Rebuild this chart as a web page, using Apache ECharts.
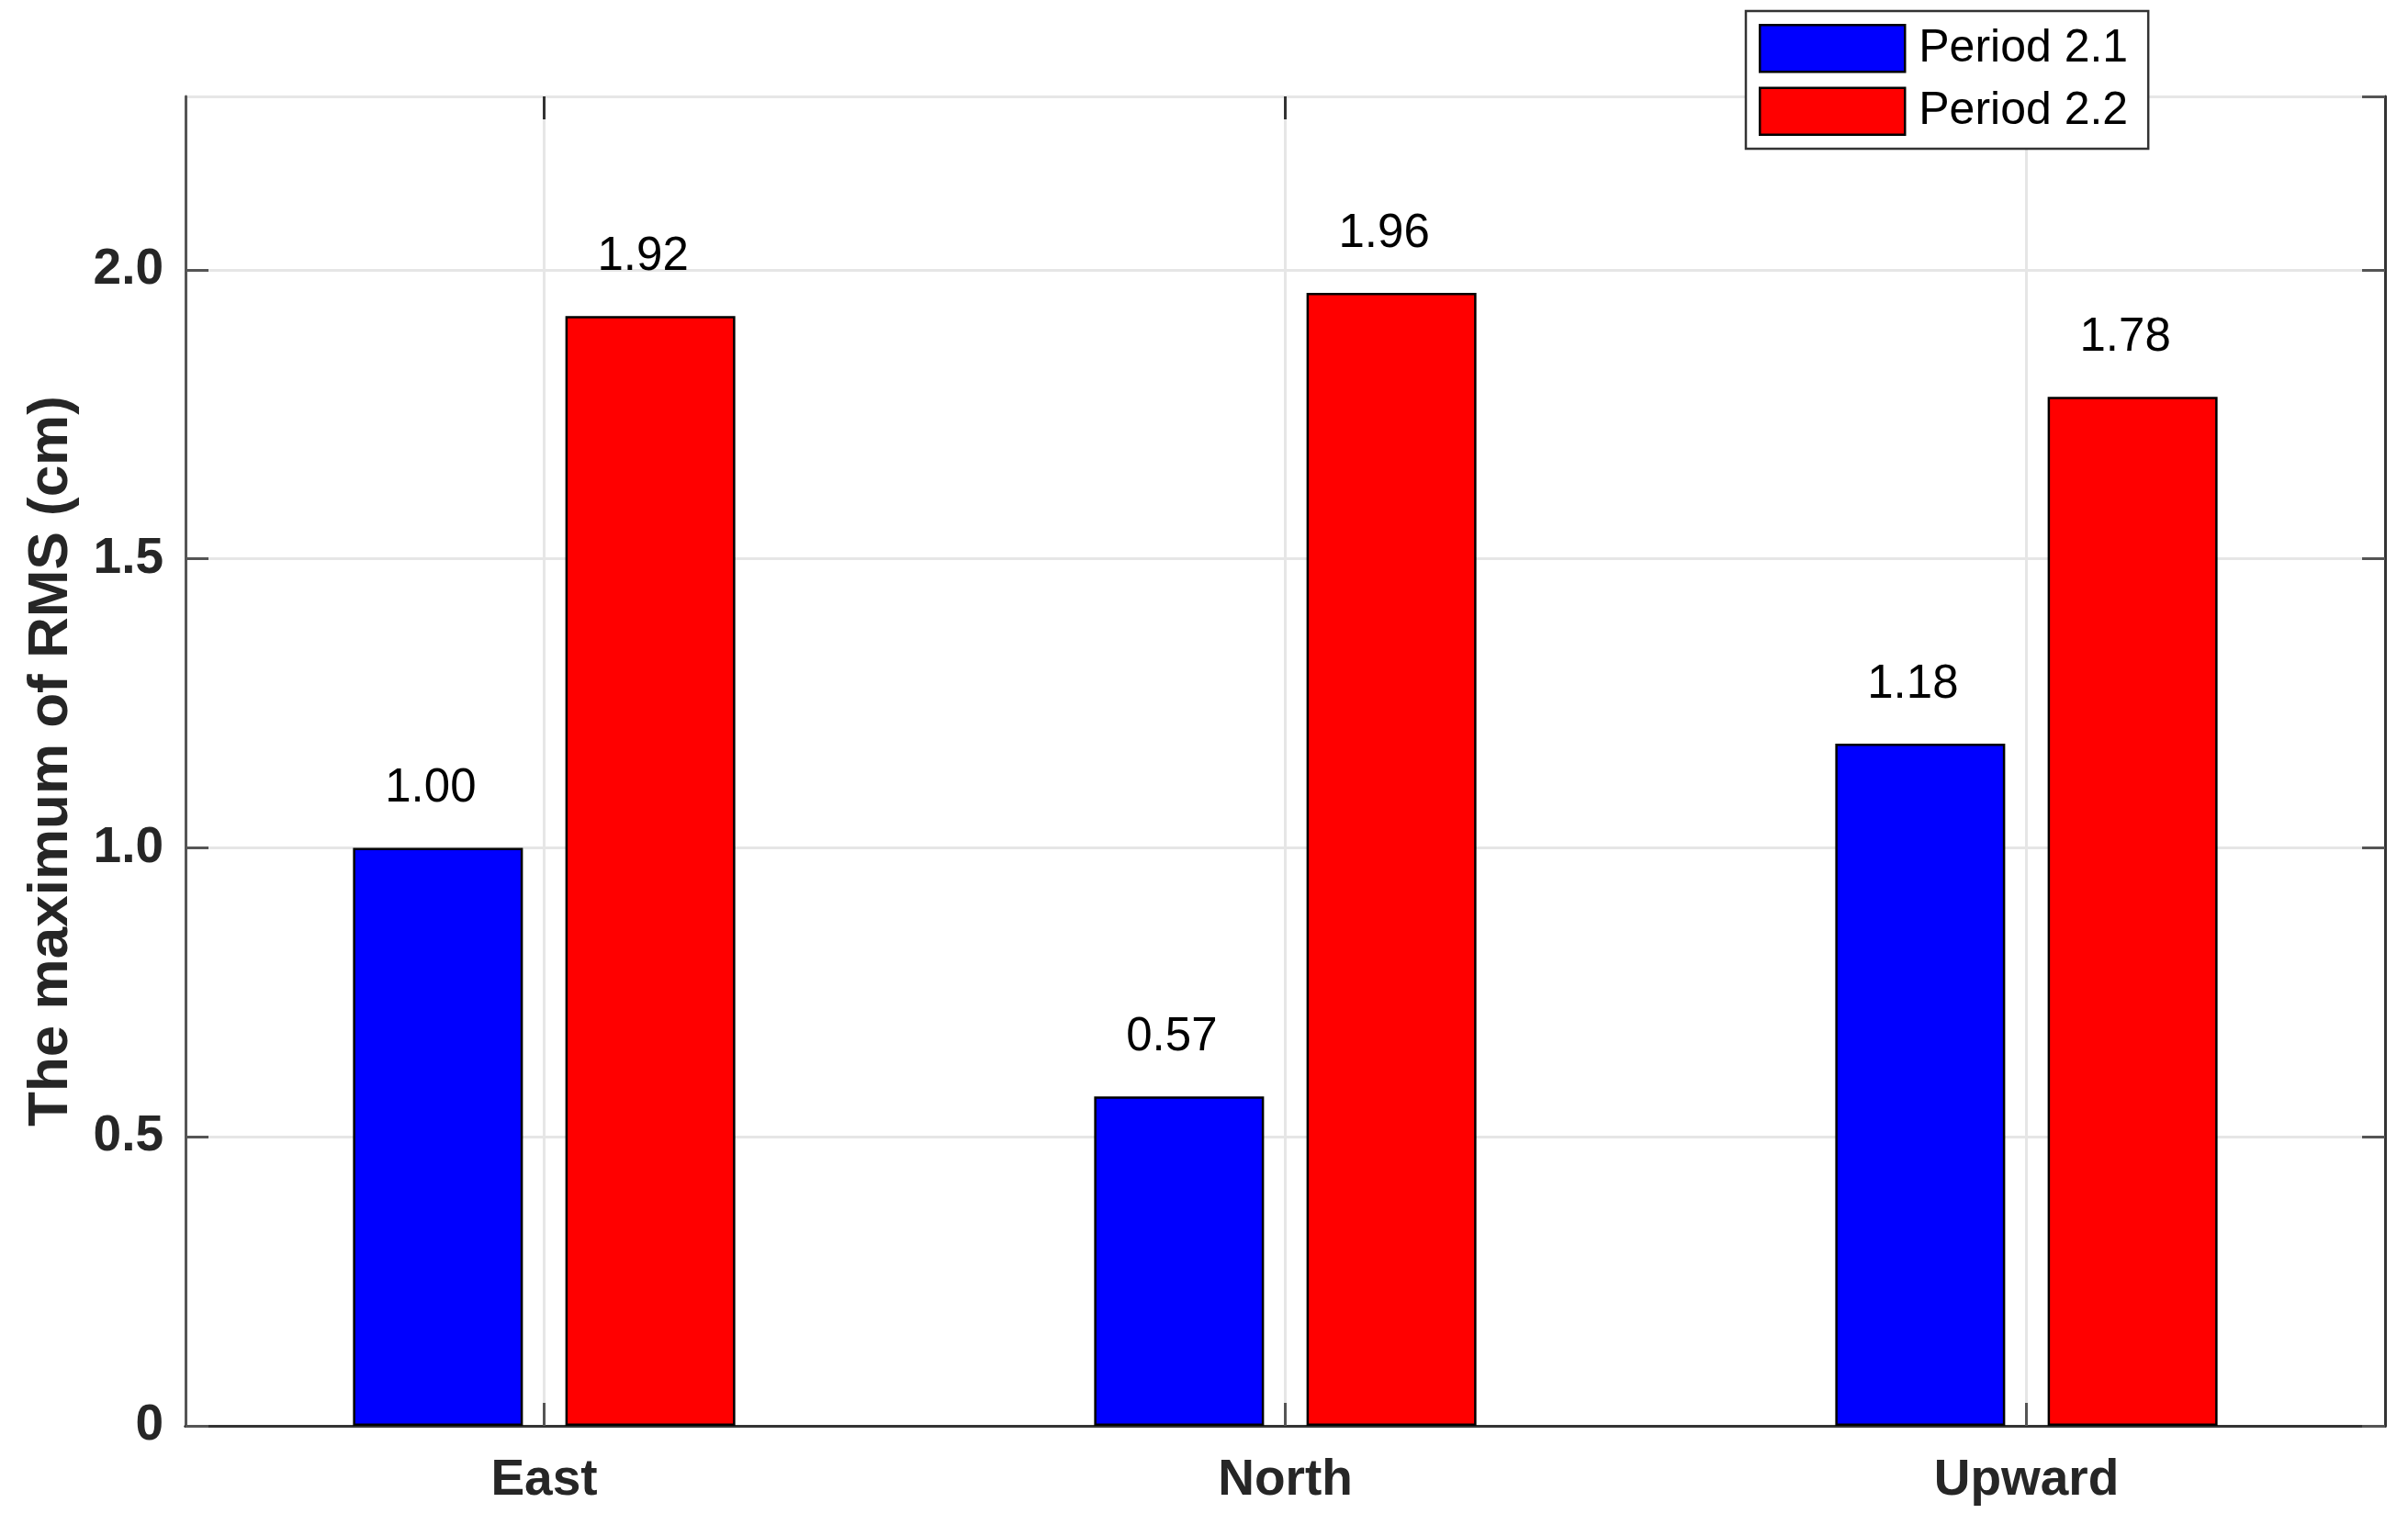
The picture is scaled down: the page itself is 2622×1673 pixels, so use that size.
<!DOCTYPE html>
<html>
<head>
<meta charset="utf-8">
<script src="https://cdn.jsdelivr.net/npm/echarts@6/dist/echarts.min.js"></script>
<style>
html,body{margin:0;padding:0;background:#fff;}
#chart{width:2622px;height:1673px;}
</style>
</head>
<body>
<div id="chart"></div>
<script>
const categories = ['East', 'North', 'Upward'];
const seriesNames = ['Period 2.1', 'Period 2.2'];
const period21 = [1.00, 0.57, 1.18];
const period22 = [1.92, 1.96, 1.78];
const yTicks = [0, 0.5, 1.0, 1.5, 2.0];
const yMin = 0, yMax = 2.3, yInterval = 0.5;

const FONT = "'Liberation Sans', Arial, Helvetica, sans-serif";
const AX = '#333333';
const GRID = '#e6e6e6';

const chart = echarts.init(document.getElementById('chart'), null, {renderer: 'canvas'});

const labelCfg = {
  show: true,
  position: 'top',
  distance: 39,
  offset: [-8, 0],
  fontFamily: FONT,
  fontSize: 51,
  lineHeight: 51,
  color: '#000',
  formatter: p => p.value.toFixed(2)
};

chart.setOption({
  animation: false,
  backgroundColor: '#fff',
  grid: [
    {left: 202, top: 105, width: 2395, height: 1448, containLabel: false},
    {left: 189, top: 105, width: 2421, height: 1448, containLabel: false}
  ],
  legend: {
    data: seriesNames,
    orient: 'vertical',
    left: 1901,
    top: 12,
    padding: [14, 22, 14, 14],
    itemWidth: 158,
    itemHeight: 51,
    itemGap: 15,
    icon: 'rect',
    backgroundColor: '#fff',
    borderColor: AX,
    borderWidth: 2.5,
    borderRadius: 0,
    z: 10,
    itemStyle: {borderColor: '#000', borderWidth: 2.5},
    textStyle: {fontFamily: FONT, fontSize: 50, color: '#000', padding: [0, 0, 0, 10]}
  },
  xAxis: [
    {
      gridIndex: 0, type: 'category', data: categories, position: 'bottom',
      axisLine: {show: true, lineStyle: {color: AX, width: 3}},
      axisTick: {show: false}, axisLabel: {show: false}, splitLine: {show: false}
    },
    {
      gridIndex: 0, type: 'category', data: categories, position: 'top',
      axisLine: {show: true, lineStyle: {color: AX, width: 3}},
      axisTick: {show: false}, axisLabel: {show: false}, splitLine: {show: false}
    },
    {
      gridIndex: 1, type: 'category', data: categories, position: 'bottom',
      axisLine: {show: false},
      axisTick: {show: true, inside: true, alignWithLabel: true, length: 25, lineStyle: {color: '#555', width: 3}},
      axisLabel: {show: true, margin: 32, fontFamily: FONT, fontSize: 55, fontWeight: 'bold', color: '#262626'},
      splitLine: {show: true, alignWithLabel: true, lineStyle: {color: GRID, width: 3}}
    },
    {
      gridIndex: 1, type: 'category', data: categories, position: 'top',
      axisLine: {show: false},
      axisTick: {show: true, inside: true, alignWithLabel: true, length: 25, lineStyle: {color: '#333', width: 3}},
      axisLabel: {show: false}, splitLine: {show: false}
    }
  ],
  yAxis: [
    {
      gridIndex: 0, type: 'value', position: 'left', min: yMin, max: yMax, interval: yInterval,
      name: 'The maximum of RMS (cm)', nameLocation: 'middle', nameGap: 115, nameRotate: 90,
      nameTextStyle: {fontFamily: FONT, fontSize: 62, fontWeight: 'bold', color: '#262626'},
      axisLine: {show: true, lineStyle: {color: '#555', width: 3}},
      axisTick: {show: true, inside: true, length: 25, lineStyle: {color: '#555', width: 3}},
      axisLabel: {
        show: true, margin: 24, fontFamily: FONT, fontSize: 55, fontWeight: 'bold', color: '#262626',
        showMaxLabel: false,
        formatter: v => {
          const t = yTicks.find(x => Math.abs(x - v) < 1e-6);
          if (t === undefined) return '';
          return t === 0 ? '0' : t.toFixed(1);
        }
      },
      splitLine: {show: true, lineStyle: {color: GRID, width: 3}}
    },
    {
      gridIndex: 0, type: 'value', position: 'right', min: yMin, max: yMax, interval: yInterval,
      axisLine: {show: true, lineStyle: {color: AX, width: 3}},
      axisTick: {show: true, inside: true, length: 25, lineStyle: {color: '#555', width: 3}},
      axisLabel: {show: false}, splitLine: {show: false}
    },
    {
      gridIndex: 1, type: 'value', min: yMin, max: yMax, interval: yInterval, show: false,
      splitLine: {show: false}
    }
  ],
  series: [
    {
      name: seriesNames[0], type: 'bar', xAxisIndex: 2, yAxisIndex: 2,
      data: period21, barWidth: 185, barGap: '25%',
      itemStyle: {color: '#0000ff', borderColor: '#000', borderWidth: 2.5},
      label: labelCfg
    },
    {
      name: seriesNames[1], type: 'bar', xAxisIndex: 2, yAxisIndex: 2,
      data: period22, barWidth: 185, barGap: '25%',
      itemStyle: {color: '#ff0000', borderColor: '#000', borderWidth: 2.5},
      label: labelCfg
    }
  ]
});
</script>
</body>
</html>
